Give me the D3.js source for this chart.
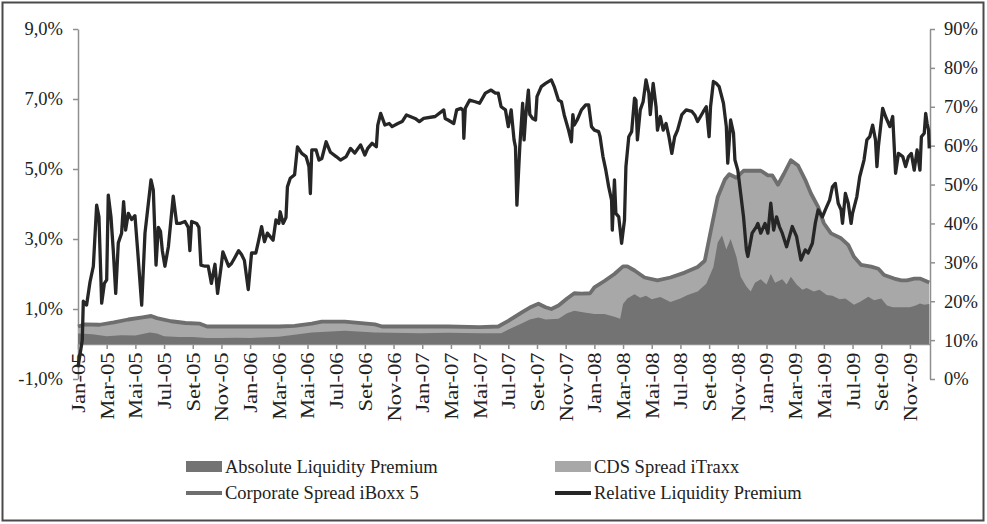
<!DOCTYPE html>
<html>
<head>
<meta charset="utf-8">
<script src="https://cdn.jsdelivr.net/npm/d3@7"></script>
<style>
  html, body { margin: 0; padding: 0; background: #fff; }
  svg text { font-family: "Liberation Serif", "Times New Roman", serif; fill: #222; }
</style>
</head>
<body>
<svg id="chart" width="987" height="524"></svg>
<script>
/* liquidity premium chart: stacked spreads (left axis) + relative premium (right axis) */

// x positions are months since Jan-05
const xLabels = ["Jan-05","Mar-05","Mai-05","Jul-05","Set-05","Nov-05",
  "Jan-06","Mar-06","Mai-06","Jul-06","Set-06","Nov-06",
  "Jan-07","Mar-07","Mai-07","Jul-07","Set-07","Nov-07",
  "Jan-08","Mar-08","Mai-08","Jul-08","Set-08","Nov-08",
  "Jan-09","Mar-09","Mai-09","Jul-09","Set-09","Nov-09"];
const leftTicks = [-1, 1, 3, 5, 7, 9];
const rightTicks = [0, 10, 20, 30, 40, 50, 60, 70, 80, 90];

// Corporate Spread iBoxx 5 (in %)
const corporateSpread = [[0,0.5],[0.5,0.56],[1.5,0.55],[2.5,0.62],[3.5,0.7],[4.5,0.76],[5.1,0.8],[5.5,0.74],
  [6.5,0.65],[7.5,0.6],[8.5,0.58],[9,0.5],[10,0.5],[11,0.5],[11.6,0.5],[12.8,0.5],[14.0,0.5],[15.1,0.52],
  [16.3,0.58],[17.0,0.64],[18.6,0.64],[20.7,0.56],[21.2,0.5],[23.9,0.5],[25.8,0.5],[28.0,0.48],[29.3,0.5],
  [30.0,0.66],[31.0,0.92],[31.5,1.04],[32.1,1.15],[32.6,1.05],[33.0,1.0],[33.5,1.1],[34.1,1.3],[34.6,1.45],
  [35.1,1.44],[35.7,1.45],[36.0,1.62],[36.7,1.8],[37.4,2.0],[38.0,2.22],[38.3,2.22],[38.8,2.1],[39.5,1.9],
  [40.4,1.82],[41.3,1.9],[42.3,2.04],[43.2,2.2],[43.7,2.38],[44.1,3.2],[44.6,4.2],[45.1,4.7],[45.4,4.85],
  [45.9,4.75],[46.4,4.95],[47.0,4.95],[47.6,4.95],[48.1,4.82],[48.4,4.82],[48.8,4.55],[49.2,4.85],[49.7,5.25],
  [50.2,5.1],[50.7,4.69],[51.1,4.3],[51.6,3.92],[52.0,3.45],[52.5,3.16],[53.2,3.02],[53.7,2.83],[54.1,2.49],
  [54.6,2.26],[55.3,2.21],[55.8,2.15],[56.2,1.97],[56.9,1.87],[57.4,1.82],[57.8,1.82],[58.3,1.87],[58.7,1.87],
  [59.35,1.76]];

// Absolute Liquidity Premium (in %)
const absolutePremium = [[0,0.3],[1,0.28],[2,0.22],[3,0.25],[4,0.24],[5,0.33],[5.5,0.3],[6,0.22],[7,0.2],
  [8,0.2],[9,0.17],[10,0.17],[11,0.18],[12,0.17],[14.0,0.21],[16.3,0.33],[18.6,0.38],[20.7,0.33],[23.9,0.31],
  [25.8,0.32],[28.0,0.31],[29.5,0.31],[30.2,0.45],[31.0,0.6],[31.5,0.7],[32.1,0.76],[32.6,0.7],[33.5,0.72],
  [34.1,0.88],[34.6,0.95],[35.3,0.9],[36.0,0.86],[36.7,0.86],[37.4,0.78],[37.8,0.72],[38.0,1.14],[38.3,1.3],
  [38.8,1.42],[39.2,1.32],[39.6,1.38],[40.0,1.28],[40.6,1.34],[41.3,1.2],[42.0,1.3],[42.5,1.4],[43.2,1.5],
  [43.8,1.72],[44.3,2.2],[44.6,2.9],[44.9,3.1],[45.2,2.7],[45.5,3.0],[45.9,2.5],[46.2,1.92],[46.6,1.64],
  [46.9,1.5],[47.2,1.75],[47.6,1.85],[48.0,1.7],[48.3,2.0],[48.6,1.75],[49.1,1.85],[49.4,1.7],[49.7,1.92],
  [50.1,1.7],[50.5,1.55],[50.8,1.6],[51.3,1.5],[51.7,1.55],[52.2,1.4],[52.6,1.38],[53.1,1.28],[53.5,1.3],
  [54.1,1.12],[54.5,1.2],[55.1,1.35],[55.5,1.25],[56.0,1.3],[56.4,1.1],[56.8,1.05],[57.4,1.05],[58.0,1.05],
  [58.4,1.1],[58.7,1.16],[59.0,1.12],[59.35,1.14]];

// Relative Liquidity Premium (in %, right axis)
const relativePremium = [[0,3],[0.3,10],[0.37,20],[0.6,19],[0.84,25],[1.07,29],[1.3,44.7],[1.46,41.7],
  [1.65,19.5],[1.84,24.6],[2.0,25.5],[2.11,47.3],[2.3,41.7],[2.46,33],[2.63,22],[2.81,35],[3.04,37.5],
  [3.18,45.6],[3.32,38.3],[3.51,42.6],[3.74,41],[3.97,42],[4.16,33],[4.44,19],[4.67,37.5],[4.9,45],
  [5.09,51.2],[5.25,48.6],[5.44,29.3],[5.6,39],[5.75,38],[5.88,33],[6.06,29],[6.3,34],[6.64,47],[6.88,40],
  [7.1,40],[7.46,40.5],[7.69,39],[7.8,33],[7.92,40.5],[8.27,40],[8.43,39],[8.57,29.3],[8.85,29],[9.08,29],
  [9.3,24.6],[9.55,29.5],[9.73,22],[10.0,29.5],[10.1,32.7],[10.5,29],[10.7,29.7],[10.9,31],[11.2,33],
  [11.4,32],[11.6,30.5],[11.87,23],[12.1,32.4],[12.4,32.4],[12.6,35.7],[12.8,39.2],[13.0,35.3],[13.2,37.5],
  [13.6,35.7],[13.8,40.9],[14.0,40],[14.1,43],[14.3,40],[14.5,41.5],[14.6,49.4],[14.8,51.6],[15.1,52.5],
  [15.3,59.7],[15.6,58],[15.9,57.2],[16.1,54.6],[16.2,47.7],[16.3,58.9],[16.6,58.9],[16.8,56.3],[17.0,56.7],
  [17.3,61],[17.6,58.3],[18.0,57.2],[18.3,56.3],[18.7,57.2],[19.0,59.3],[19.3,58.1],[19.7,60.2],[20.0,57.6],
  [20.2,59.3],[20.5,60.6],[20.8,59.7],[20.9,65.3],[21.1,68.3],[21.4,65.3],[21.7,65.7],[21.9,64.9],[22.3,65.7],
  [22.6,66.2],[22.9,67.9],[23.5,67],[23.8,66.2],[24.1,67],[24.9,67.5],[25.5,69.2],[25.6,67],[25.8,66.6],
  [26.2,65.7],[26.4,69.2],[26.7,69.6],[26.85,69],[26.9,61.9],[27.0,69.6],[27.3,71.7],[27.7,71.3],[28.0,70.9],
  [28.4,73.5],[28.8,74.3],[29.1,73.5],[29.3,73.5],[29.5,70],[29.8,69.2],[30.0,64.9],[30.2,69.2],[30.4,61.5],
  [30.5,59.7],[30.6,44.7],[30.8,59.7],[31.0,70.9],[31.1,61.5],[31.2,67],[31.4,74.3],[31.5,68],[31.7,67],
  [31.9,66.6],[32.0,72.6],[32.3,75.2],[32.6,76],[33.0,76.9],[33.2,75.2],[33.5,71.7],[33.7,71.3],[33.9,67.9],
  [34.2,64],[34.4,61],[34.5,68],[34.6,65.3],[34.8,66.6],[35.1,69.2],[35.4,70.5],[35.6,70.5],[35.8,64.9],
  [36.0,64],[36.3,63.6],[36.4,62.3],[36.5,59.7],[36.6,57.2],[36.8,53.7],[37.0,49.4],[37.2,46],[37.25,38.3],
  [37.4,51.2],[37.5,42.6],[37.7,41.7],[37.8,38.3],[37.9,34.9],[38.1,40.9],[38.2,54.6],[38.4,62.3],[38.6,63.6],
  [38.8,72.2],[38.9,71.7],[39.0,61.5],[39.2,69.2],[39.4,71.3],[39.6,76.9],[39.8,73.5],[39.9,68],[40.1,76],
  [40.3,70],[40.4,64],[40.6,67.5],[40.8,64],[41.0,65.7],[41.2,62.3],[41.4,58],[41.6,62.3],[41.8,64],[42.1,68],
  [42.4,69.2],[42.8,68.8],[43.0,67.9],[43.2,66.2],[43.6,68.8],[43.8,70],[44.0,62.3],[44.1,70],[44.3,76.5],
  [44.5,76],[44.7,75.2],[45.0,70.9],[45.2,64.9],[45.3,55.5],[45.5,66.6],[45.7,63.2],[45.8,56.3],[46.0,53.7],
  [46.2,47.7],[46.4,41.7],[46.6,33.2],[46.7,31.5],[47.0,37.5],[47.3,39.2],[47.4,40],[47.6,37.5],[47.9,40],
  [48.1,37.5],[48.3,45.2],[48.5,38.3],[48.7,41.7],[48.9,39.2],[49.1,37.5],[49.4,34],[49.6,36.6],[49.8,39.2],
  [50.1,36.6],[50.2,34.5],[50.4,30.6],[50.7,33.2],[50.9,32.4],[51.2,34.9],[51.4,40],[51.6,43.5],[51.9,41.7],
  [52.1,43.5],[52.4,46],[52.6,49.4],[52.8,50.3],[53.0,45.2],[53.2,43.5],[53.3,40],[53.5,47.7],[53.7,45.2],
  [53.9,40],[54.0,42.6],[54.3,46.9],[54.5,52],[54.8,56.3],[55.0,61.5],[55.2,62.3],[55.4,65.3],[55.6,61.5],
  [55.7,54.6],[55.8,59.7],[56.1,69.6],[56.3,67.5],[56.6,64.9],[56.8,67.5],[57.0,52.9],[57.2,58],[57.5,57.2],
  [57.7,54.6],[57.9,57.2],[58.1,58],[58.3,53.7],[58.5,58.9],[58.7,53.7],[58.8,62.3],[59.0,63.2],[59.1,68.3],
  [59.2,65.7],[59.3,64],[59.35,59.3]];

const legendItems = [
  { label: "Absolute Liquidity Premium", type: "area", color: "#737373" },
  { label: "CDS Spread iTraxx", type: "area", color: "#a8a8a8" },
  { label: "Corporate Spread iBoxx 5", type: "line", color: "#6e6e6e" },
  { label: "Relative Liquidity Premium", type: "line", color: "#262626" }
];

// general variables
const svg = d3.select("svg#chart");
const plotLeft = 78, plotRight = 930, plotTop = 29, plotBottom = 379;
const axisColor = "#8f8f8f";

const x = d3.scaleLinear().domain([0, 59.4]).range([plotLeft, plotRight]);
const yLeft = d3.scaleLinear().domain([-1, 9]).range([plotBottom, plotTop]);
const yRight = d3.scaleLinear().domain([0, 90]).range([plotBottom, plotTop]);

// outer frame
svg.append("rect")
  .attr("x", 2.5).attr("y", 2.5)
  .attr("width", 981).attr("height", 518)
  .attr("fill", "none")
  .attr("stroke", "#4a4a4a")
  .attr("stroke-width", 2);

// axes
const styleAxis = (g) => {
  g.selectAll(".domain").attr("stroke", axisColor).attr("stroke-width", 1.5);
  g.selectAll(".tick line").attr("stroke", axisColor).attr("stroke-width", 1.5);
  g.selectAll(".tick text").attr("font-size", "18.5px").attr("fill", "#222");
};

svg.append("g")
  .attr("transform", `translate(${plotLeft},0)`)
  .call(d3.axisLeft(yLeft).tickValues(leftTicks).tickSize(5).tickSizeOuter(0)
    .tickFormat(d => d.toFixed(1).replace(".", ",") + "%"))
  .call(styleAxis)
  .call(g => g.selectAll(".tick text").attr("x", -15));

svg.append("g")
  .attr("transform", `translate(${plotRight},0)`)
  .call(d3.axisRight(yRight).tickValues(rightTicks).tickSize(5).tickSizeOuter(0)
    .tickFormat(d => d + "%"))
  .call(styleAxis)
  .call(g => g.selectAll(".tick text").attr("x", 14));

svg.append("g")
  .attr("transform", `translate(0,${yLeft(0)})`)
  .call(d3.axisBottom(x).tickValues(d3.range(0, 59, 2)).tickSize(5).tickSizeOuter(0)
    .tickFormat(d => xLabels[d / 2]))
  .call(styleAxis)
  .call(g => g.selectAll(".tick text")
    .attr("transform", "rotate(-90) scale(1.22,1)")
    .attr("x", -7).attr("y", 0).attr("dy", "0.35em")
    .attr("text-anchor", "end"));

// areas: light (up to corporate spread) then dark (absolute premium) on top
const areaLeft = d3.area().x(d => x(d[0])).y0(yLeft(0)).y1(d => yLeft(d[1]));

svg.append("path")
  .datum(corporateSpread)
  .attr("d", areaLeft)
  .attr("fill", legendItems[1].color);

svg.append("path")
  .datum(absolutePremium)
  .attr("d", areaLeft)
  .attr("fill", legendItems[0].color);

// corporate spread line
svg.append("path")
  .datum(corporateSpread)
  .attr("d", d3.line().x(d => x(d[0])).y(d => yLeft(d[1])))
  .attr("fill", "none")
  .attr("stroke", legendItems[2].color)
  .attr("stroke-width", 3.8)
  .attr("stroke-linejoin", "round");

// relative liquidity premium line
svg.append("path")
  .datum(relativePremium)
  .attr("d", d3.line().x(d => x(d[0])).y(d => yRight(d[1])))
  .attr("fill", "none")
  .attr("stroke", legendItems[3].color)
  .attr("stroke-width", 3.3)
  .attr("stroke-linejoin", "round");

// legend
const legendCols = [186, 555], legendRows = [467, 493];
const legend = svg.append("g").selectAll("g")
  .data(legendItems)
  .join("g")
  .attr("transform", (d, i) => `translate(${legendCols[i % 2]},${legendRows[Math.floor(i / 2)]})`);

legend.filter(d => d.type === "area").append("rect")
  .attr("x", 0).attr("y", -6).attr("width", 36).attr("height", 11)
  .attr("fill", d => d.color);

legend.filter(d => d.type === "line").append("line")
  .attr("x1", 0).attr("x2", 36).attr("y1", 0).attr("y2", 0)
  .attr("stroke", d => d.color)
  .attr("stroke-width", 4);

legend.append("text")
  .attr("x", 39).attr("y", 0).attr("dy", "0.35em")
  .attr("font-size", "18.5px")
  .text(d => d.label);
</script>
</body>
</html>
